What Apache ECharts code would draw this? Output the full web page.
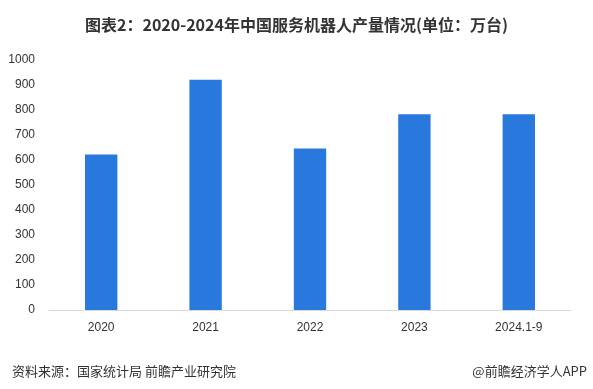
<!DOCTYPE html>
<html><head><meta charset="utf-8">
<script src="https://cdn.jsdelivr.net/npm/echarts@6/dist/echarts.min.js"></script>
<style>html,body{margin:0;padding:0;background:#fff}#c{width:593px;height:389px}</style>
</head><body><div id="c"></div>
<script>
var categories = ['2020', '2021', '2022', '2023', '2024.1-9'];
var production = [622, 921, 646, 783, 783];
var yTicks = [0, 100, 200, 300, 400, 500, 600, 700, 800, 900, 1000];
var titleText = '图表2：2020-2024年中国服务机器人产量情况(单位：万台)';
var sourceText = '资料来源：国家统计局 前瞻产业研究院';
var brandText = '@前瞻经济学人APP';

var chart = echarts.init(document.getElementById('c'), null, {renderer: 'canvas'});
chart.setOption({
  animation: false,
  backgroundColor: '#fff',
  title: [
    {text: titleText, left: 'center', top: 12,
     textStyle: {fontFamily: 'Noto Sans CJK SC', fontSize: 16, fontWeight: 'bold', color: '#333'}},
    {text: sourceText, left: 7, top: 360,
     textStyle: {fontFamily: 'Noto Sans CJK SC', fontSize: 13, fontWeight: 'normal', color: '#333'}},
    {text: brandText, right: 1, top: 360,
     textStyle: {fontFamily: 'Noto Sans CJK SC', fontSize: 13, fontWeight: 'normal', color: '#333'}}
  ],
  grid: {left: 49, right: 22, top: 60, bottom: 79},
  xAxis: {
    type: 'category', data: categories,
    axisLine: {lineStyle: {color: '#d9d9d9'}},
    axisTick: {show: false},
    axisLabel: {color: '#333', fontFamily: 'Liberation Sans', fontSize: 12, margin: 12}
  },
  yAxis: {
    type: 'value', min: yTicks[0], max: yTicks[yTicks.length - 1], interval: 100,
    axisLine: {show: false}, axisTick: {show: false},
    splitLine: {show: false},
    axisLabel: {color: '#333', fontFamily: 'Liberation Sans', fontSize: 12, margin: 14,
      formatter: function (v) { return String(v); }}
  },
  series: [{
    type: 'bar', data: production, barWidth: '31%',
    itemStyle: {color: '#2878DE'}
  }]
});
</script></body></html>
